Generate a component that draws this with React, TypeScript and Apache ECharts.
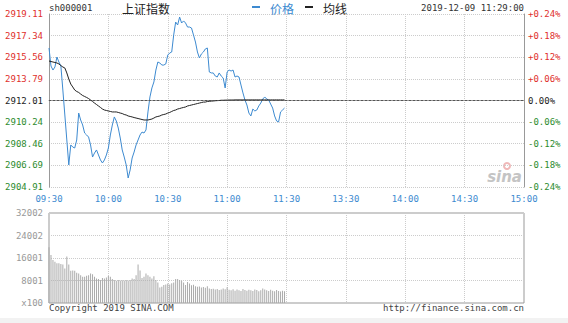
import React, { useEffect, useRef } from "react";
import * as echarts from "echarts";

const prevClose = 2912.01;
const priceTicks = ["2904.91", "2906.69", "2908.46", "2910.24", "2912.01", "2913.79", "2915.56", "2917.34", "2919.11"];
const pctTicks = ["-0.24%", "-0.18%", "-0.12%", "-0.06%", "0.00%", "+0.06%", "+0.12%", "+0.18%", "+0.24%"];
const volTicks = ["x100", "8001", "16001", "24002", "32002"];
const timeTicks = ["09:30", "10:00", "10:30", "11:00", "11:30", "13:30", "14:00", "14:30", "15:00"];

const prices = [
  2916.32, 2914.84, 2914.51, 2914.76, 2915.58, 2915.17, 2914.84, 2912.87, 2910.82, 2908.77,
  2906.72, 2908.36, 2908.19, 2908.11, 2908.77, 2910.98, 2910.41, 2910.0, 2909.34, 2909.18,
  2909.01, 2908.36, 2907.37, 2907.7, 2907.95, 2907.54, 2907.13, 2906.88, 2907.13, 2907.54,
  2908.11, 2909.18, 2910.0, 2910.66, 2910.33, 2909.75, 2908.93, 2907.95, 2907.37, 2906.72,
  2905.65, 2906.31, 2907.29, 2907.78, 2908.36, 2908.77, 2909.18, 2909.42, 2909.34, 2909.59,
  2911.07, 2912.3, 2913.04, 2913.53, 2914.51, 2915.17, 2915.09, 2914.92, 2914.92, 2915.01,
  2915.74, 2915.91, 2915.99, 2917.39, 2918.45, 2918.21, 2918.86, 2918.37, 2918.54, 2918.37,
  2918.04, 2918.04, 2917.96, 2917.39, 2916.81, 2915.99, 2915.5, 2915.83, 2915.99, 2916.24,
  2916.32, 2914.35, 2914.27, 2914.27, 2914.02, 2913.94, 2914.27, 2914.02, 2913.86, 2913.04,
  2914.35, 2914.51, 2914.43, 2914.51, 2913.94, 2914.02, 2913.94, 2913.28, 2912.63, 2912.05,
  2911.64, 2910.98, 2910.74, 2911.31, 2911.15, 2911.23, 2911.56, 2911.8, 2912.13, 2912.3,
  2912.13, 2912.05, 2911.72, 2911.39, 2910.74, 2910.33, 2910.25, 2911.07, 2911.23, 2911.39,
];

const avgPrices = [
  2915.25, 2915.21, 2915.17, 2915.13, 2915.09, 2915.01, 2914.88, 2914.76, 2914.68, 2914.27,
  2913.77, 2913.36, 2913.12, 2912.87, 2912.75, 2912.67, 2912.54, 2912.42, 2912.34, 2912.26,
  2912.17, 2912.05, 2911.93, 2911.8, 2911.68, 2911.56, 2911.44, 2911.31, 2911.23, 2911.19,
  2911.15, 2911.11, 2911.07, 2911.07, 2911.07, 2911.03, 2910.98, 2910.94, 2910.86, 2910.82,
  2910.74, 2910.7, 2910.66, 2910.61, 2910.57, 2910.53, 2910.49, 2910.45, 2910.41, 2910.41,
  2910.41, 2910.45, 2910.49, 2910.57, 2910.66, 2910.7, 2910.74, 2910.82, 2910.86, 2910.9,
  2910.98, 2911.03, 2911.11, 2911.19, 2911.23, 2911.31, 2911.35, 2911.4, 2911.44, 2911.48,
  2911.56, 2911.6, 2911.64, 2911.68, 2911.72, 2911.76, 2911.8, 2911.84, 2911.88, 2911.88,
  2911.93, 2911.94, 2911.96, 2911.97, 2911.99, 2912.0, 2912.01, 2912.03, 2912.03, 2912.04,
  2912.04, 2912.05, 2912.05, 2912.05, 2912.06, 2912.06, 2912.06, 2912.06, 2912.06, 2912.06,
  2912.06, 2912.06, 2912.06, 2912.06, 2912.06, 2912.06, 2912.06, 2912.06, 2912.06, 2912.06,
  2912.06, 2912.06, 2912.06, 2912.06, 2912.06, 2912.06, 2912.06, 2912.06, 2912.06, 2912.06,
];

const volumes = [
  19800, 17100, 15300, 14700, 14100, 14100, 13900, 13700, 12300, 16500,
  13700, 11500, 11600, 11500, 10800, 10500, 9900, 9300, 9300, 9700,
  9900, 10500, 10200, 9300, 8700, 8500, 8200, 8900, 8700, 9100,
  9600, 9300, 8500, 8200, 7900, 8200, 8000, 8100, 8000, 8200,
  8000, 8200, 8700, 8500, 9900, 13700, 11600, 8900, 9300, 10500,
  9900, 9300, 8700, 9500, 8200, 7300, 5500, 5800, 6400, 6600,
  6900, 6600, 7000, 7300, 8500, 8500, 8200, 7900, 7300, 6400,
  7500, 6900, 6300, 6500, 6000, 5800, 5900, 5500, 5700, 5400,
  6000, 5200, 5000, 5100, 4800, 5000, 4600, 4800, 5200, 4900,
  5600, 4700, 4500, 4900, 4400, 4800, 4500, 4300, 5000, 4600,
  4400, 4700, 4500, 4300, 4800, 4600, 4200, 4500, 5200, 4800,
  4500, 4300, 4700, 4400, 4200, 4600, 4300, 4100, 4400, 4200,
];

const MONO = "DejaVu Sans Mono";
const RED = "#e0302c";
const GREEN = "#2e8b2e";
const BLUE = "#3d8ad0";

function pad(n: number) {
  return (n < 10 ? "0" : "") + n;
}
const categories: string[] = [];
for (let i = 0; i <= 240; i++) {
  const base = i <= 120 ? 9 * 60 + 30 + i : 13 * 60 + (i - 120);
  categories.push(pad(Math.floor(base / 60)) + ":" + pad(base % 60));
}

function nearest(list: string[], v: number, parse: (s: string) => number) {
  let best = list[0];
  let bd = Infinity;
  for (const s of list) {
    const d = Math.abs(parse(s) - v);
    if (d < bd) {
      bd = d;
      best = s;
    }
  }
  return best;
}

export default function App() {
  const ref = useRef<HTMLDivElement>(null);
  useEffect(() => {
    if (!ref.current) return;
    const chart = echarts.init(ref.current, null, { renderer: "svg" });
    const dotted = { color: "#cccccc", type: [1, 1] as any, width: 1 };
    const showEvery30 = (idx: number) => idx % 30 === 0;
    chart.setOption({
      animation: false,
      backgroundColor: "#ffffff",
      grid: [
        { left: 49, right: 44, top: 14, height: 173 },
        { left: 49, right: 44, top: 213, height: 90, show: true, borderColor: "#999", borderWidth: 1 },
      ],
      xAxis: [
        {
          type: "category",
          gridIndex: 0,
          data: categories,
          boundaryGap: false,
          axisLine: { show: true, lineStyle: { color: "#999" } },
          axisTick: { show: false },
          axisLabel: {
            interval: showEvery30,
            formatter: (_v: string, idx: number) => timeTicks[Math.round(idx / 30)],
            color: BLUE,
            fontFamily: MONO,
            fontSize: 9,
            margin: 7,
          },
          splitLine: { show: true, interval: showEvery30, lineStyle: dotted },
        },
        {
          type: "category",
          gridIndex: 1,
          data: categories,
          boundaryGap: false,
          axisLine: { show: false },
          axisTick: { show: false },
          axisLabel: { show: false },
          splitLine: { show: true, interval: showEvery30, lineStyle: dotted },
        },
      ],
      yAxis: [
        {
          type: "value",
          gridIndex: 0,
          min: 2904.91,
          max: 2919.11,
          interval: 1.775,
          axisLine: { show: true, lineStyle: { color: "#999" } },
          axisTick: { show: false },
          axisLabel: {
            formatter: (v: number) => nearest(priceTicks, v, parseFloat),
            color: (v: number) => (v > prevClose + 0.1 ? RED : v < prevClose - 0.1 ? GREEN : "#222"),
            fontFamily: MONO,
            fontSize: 9,
            margin: 6,
          },
          splitLine: { show: true, lineStyle: dotted },
        },
        {
          type: "value",
          gridIndex: 0,
          position: "right",
          min: -0.24,
          max: 0.24,
          interval: 0.06,
          axisLine: { show: true, lineStyle: { color: "#999" } },
          axisTick: { show: false },
          axisLabel: {
            formatter: (v: number) => nearest(pctTicks, v, (s) => parseFloat(s)),
            color: (v: number) => (v > 0.01 ? RED : v < -0.01 ? GREEN : "#222"),
            fontFamily: MONO,
            fontSize: 9,
            margin: 4,
          },
          splitLine: { show: false },
        },
        {
          type: "value",
          gridIndex: 1,
          min: 0,
          max: 32002,
          interval: 8000.5,
          axisLine: { show: false },
          axisTick: { show: false },
          axisLabel: {
            formatter: (v: number) => volTicks[Math.round(v / 8000.5)],
            color: "#999",
            fontFamily: MONO,
            fontSize: 9,
            margin: 6,
          },
          splitLine: { show: true, lineStyle: dotted },
        },
      ],
      series: [
        {
          name: "价格",
          type: "line",
          xAxisIndex: 0,
          yAxisIndex: 0,
          data: prices,
          showSymbol: false,
          lineStyle: { color: BLUE, width: 1 },
          itemStyle: { color: BLUE },
          z: 3,
          markLine: {
            silent: true,
            symbol: "none",
            label: { show: false },
            lineStyle: { color: "#555", type: [2, 2] as any, width: 1 },
            data: [{ yAxis: prevClose }],
          },
        },
        {
          name: "均线",
          type: "line",
          xAxisIndex: 0,
          yAxisIndex: 0,
          data: avgPrices,
          showSymbol: false,
          lineStyle: { color: "#222", width: 1 },
          itemStyle: { color: "#222" },
          z: 4,
        },
        {
          name: "成交量",
          type: "bar",
          xAxisIndex: 1,
          yAxisIndex: 2,
          data: volumes,
          barWidth: 1,
          itemStyle: { color: "#aaaaaa" },
        },
      ],
      graphic: [
        { type: "rect", shape: { x: 0, y: 318, width: 568, height: 5 }, style: { fill: "#f2f2f2" }, silent: true },
        { type: "text", x: 49, y: 8, style: { text: "sh000001", font: `9px '${MONO}'`, fill: "#333", textAlign: "left", textVerticalAlign: "middle" } },
        { type: "text", x: 122, y: 8, style: { text: "上证指数", font: "12px 'Noto Sans CJK SC'", fill: "#222", textAlign: "left", textVerticalAlign: "middle" } },
        { type: "rect", shape: { x: 252, y: 6, width: 8, height: 2 }, style: { fill: BLUE } },
        { type: "text", x: 270, y: 8, style: { text: "价格", font: "12px 'Noto Sans CJK SC'", fill: BLUE, textAlign: "left", textVerticalAlign: "middle" } },
        { type: "rect", shape: { x: 305, y: 6, width: 8, height: 2 }, style: { fill: "#222" } },
        { type: "text", x: 323, y: 8, style: { text: "均线", font: "12px 'Noto Sans CJK SC'", fill: "#222", textAlign: "left", textVerticalAlign: "middle" } },
        { type: "text", x: 524, y: 8, style: { text: "2019-12-09 11:29:00", font: `9px '${MONO}'`, fill: "#333", textAlign: "right", textVerticalAlign: "middle" } },
        { type: "text", x: 49, y: 308, style: { text: "Copyright 2019 SINA.COM", font: `9px '${MONO}'`, fill: "#444", textAlign: "left", textVerticalAlign: "middle" } },
        { type: "text", x: 524, y: 308, style: { text: "http://finance.sina.com.cn", font: `9px '${MONO}'`, fill: "#444", textAlign: "right", textVerticalAlign: "middle" } },
        { type: "ring", shape: { cx: 507, cy: 166, r: 4, r0: 2 }, style: { fill: "#f0b8b8" }, silent: true },
        { type: "text", x: 522, y: 177, style: { text: "sina", font: "italic bold 15px 'DejaVu Sans'", fill: "#c4c4c4", textAlign: "right", textVerticalAlign: "middle" }, silent: true },
      ],
    });
    return () => chart.dispose();
  }, []);
  return <div ref={ref} style={{ position: "fixed", left: 0, top: 0, width: 568, height: 323 }} />;
}
